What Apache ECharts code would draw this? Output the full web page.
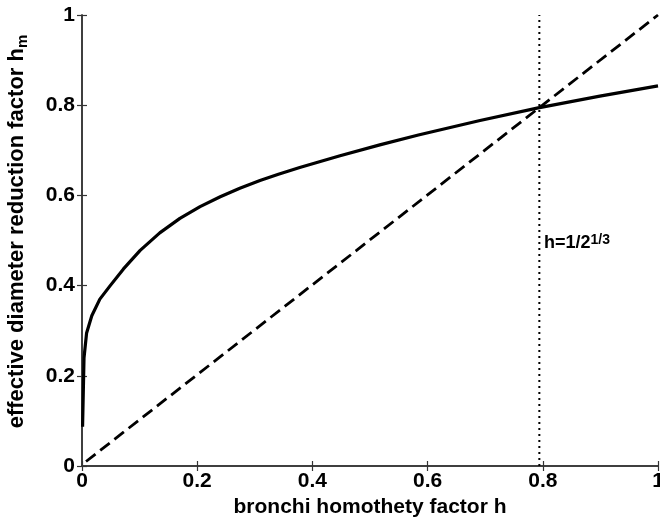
<!DOCTYPE html>
<html><head><meta charset="utf-8">
<script src="https://cdn.jsdelivr.net/npm/echarts@6/dist/echarts.min.js"></script>
<style>html,body{margin:0;padding:0;background:#fff}#c{width:660px;height:522px}</style>
</head><body><div id="c"></div>
<script>
// solid curve h_m(h)
const hValues  = [0.001, 0.0035, 0.008, 0.017, 0.031, 0.049, 0.072, 0.101, 0.135, 0.170, 0.205, 0.240, 0.274, 0.309, 0.341, 0.378, 0.448, 0.517, 0.584, 0.691, 0.792, 0.899, 1.000];
const hmValues = [0.087, 0.240, 0.295, 0.333, 0.370, 0.400, 0.437, 0.478, 0.517, 0.549, 0.575, 0.597, 0.616, 0.633, 0.647, 0.662, 0.688, 0.712, 0.734, 0.766, 0.794, 0.820, 0.843];
// dashed diagonal h_m = h
const diagH  = [0.007, 1.0];
const diagHm = [0.010, 1.0];
// dotted vertical marker
const criticalH = 0.794;
const markerY = [0, 1];
const labelPos = [0.802, 0.494];
const xTitle = 'bronchi homothety factor h';
const yTitle = 'effective diameter reduction factor h';
const yTitleSub = 'm';

const FONT = 'Liberation Sans, Arial, sans-serif';
const chart = echarts.init(document.getElementById('c'));

const zip = (a, b) => a.map((v, i) => [v, b[i]]);

const baseAxis = {
  min: 0, max: 1, interval: 0.2,
  axisLine: { show: true, lineStyle: { color: '#333', width: 1.5 } },
  axisTick: { show: true, inside: true, length: 5, lineStyle: { color: '#333', width: 1.2 } },
  splitLine: { show: false },
};

chart.setOption({
  animation: false,
  backgroundColor: '#fff',
  grid: { left: 82, right: 2, top: 15, bottom: 56, containLabel: false, outerBoundsMode: 'none' },
  xAxis: [
    Object.assign({}, baseAxis, {
      type: 'value', position: 'bottom',
      axisLabel: { color: '#000', fontFamily: FONT, fontWeight: 'bold', fontSize: 21, margin: 5 },
      name: xTitle, nameLocation: 'middle', nameGap: 30,
      nameTextStyle: { color: '#000', fontFamily: FONT, fontWeight: 'bold', fontSize: 21 }
    }),
    Object.assign({}, baseAxis, { type: 'value', position: 'top', axisLabel: { show: false } })
  ],
  yAxis: [
    Object.assign({}, baseAxis, {
      type: 'value', position: 'left',
      axisLabel: { color: '#000', fontFamily: FONT, fontWeight: 'bold', fontSize: 21, margin: 7 },
      name: '{a|' + yTitle + '}{b|' + yTitleSub + '}',
      nameLocation: 'middle', nameRotate: 90, nameGap: 52,
      nameTextStyle: {
        padding: [0, 0, 0, 18],
        rich: {
          a: { color: '#000', fontFamily: FONT, fontWeight: 'bold', fontSize: 22, lineHeight: 26 },
          b: { color: '#000', fontFamily: FONT, fontWeight: 'bold', fontSize: 15, lineHeight: 15, verticalAlign: 'bottom' }
        }
      }
    }),
    Object.assign({}, baseAxis, { type: 'value', position: 'right', axisLabel: { show: false } })
  ],
  series: [
    {
      type: 'line', xAxisIndex: 0, yAxisIndex: 0,
      data: zip(hValues, hmValues), showSymbol: false, symbol: 'none',
      smooth: false,
      lineStyle: { color: '#000', width: 3.2, join: 'round' }
    },
    {
      type: 'line', data: zip(diagH, diagHm), symbol: 'none',
      lineStyle: { color: '#000', width: 2.8, type: [12, 6] }
    },
    {
      type: 'line', data: markerY.map(y => [criticalH, y]), symbol: 'none',
      lineStyle: { color: '#000', width: 2, type: [2, 4] }
    },
    {
      type: 'scatter', data: [labelPos], symbolSize: 0, silent: true,
      itemStyle: { color: '#000', opacity: 1 },
      label: {
        show: true, position: 'right', distance: 0,
        formatter: '{a|h=1/2}{b|1/3}',
        rich: {
          a: { color: '#000', fontFamily: FONT, fontWeight: 'bold', fontSize: 18, lineHeight: 20 },
          b: { color: '#000', fontFamily: FONT, fontWeight: 'bold', fontSize: 14, lineHeight: 14, verticalAlign: 'top' }
        }
      }
    }
  ]
});
</script></body></html>
